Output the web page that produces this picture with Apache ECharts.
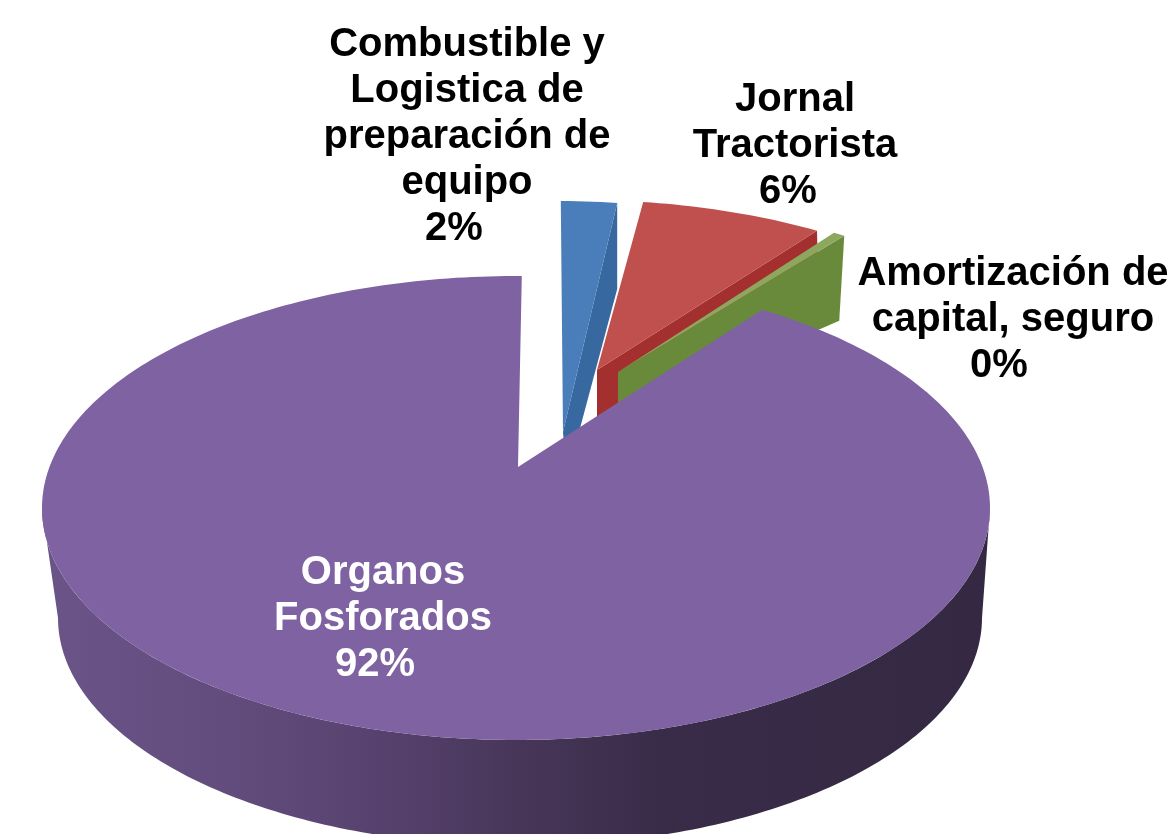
<!DOCTYPE html>
<html><head><meta charset="utf-8">
<style>html,body{margin:0;padding:0;background:#fff}#c{width:1175px;height:834px}</style>
<script src="https://cdn.jsdelivr.net/npm/echarts@6/dist/echarts.min.js"></script>
</head><body><div id="c"></div>
<script>
// Data
const categories = ['Combustible y\nLogistica de\npreparación de\nequipo', 'Jornal\nTractorista', 'Amortización de\ncapital, seguro', 'Organos\nFosforados'];
const values = [1.9, 6.2, 0.4, 91.5];

// Styles
const faceColors = ['#4a7ebb', '#c0504d', '#8ea75f', '#7e62a2'];
const wallColors = ['#37689f', '#a32f2e', '#6a8a3b', null];
const labelColors = ['#000', '#000', '#000', '#fff'];

// Layout of the tilted pie
const pie = {cx: 516, cy: 508, rx: 474, ry: 232, start: 0.7};
const bottom = {cx: 520, cy: 618, rx: 462, ry: 228};
const explode = [[39, -75], [65, -76], [82, -74], [0, 0]];
const hub = [[563, 432], [597, 370], [618, 372], [518, 467]];
const wallOuter = [[0, 86], [2, 86], [-5, 85], [0, 0]];
const wallInner = [[4, 45], [0, 50], [0, 45], [0, 0]];
const namePos = [[467, 114], [795, 123], [1013, 297], [383, 596]];
const percentPos = [[454, 229], [788, 192], [999, 366], [375, 665]];

const total = values.reduce((a, b) => a + b, 0);
const rad = d => d * Math.PI / 180;
function onEllipse(e, deg, off) {
  return [e.cx + off[0] + e.rx * Math.sin(rad(deg)), e.cy + off[1] - e.ry * Math.cos(rad(deg))];
}
function arc(e, a, b, off) {
  const n = Math.max(2, Math.ceil(Math.abs(b - a)));
  const pts = [];
  for (let i = 0; i <= n; i++) pts.push(onEllipse(e, a + (b - a) * i / n, off));
  return pts;
}
const wallGradient = {type: 'linear', x: 0, y: 0, x2: 1, y2: 0, colorStops: [
  {offset: 0, color: '#6b5488'}, {offset: 0.2, color: '#624c7d'}, {offset: 0.35, color: '#57426f'},
  {offset: 0.5, color: '#483659'}, {offset: 0.65, color: '#392c49'}, {offset: 1, color: '#342842'}]};
const labelFont = 'bold 40px "Liberation Sans", Arial, sans-serif';

function renderItem(params, api) {
  const i = params.dataIndex;
  const val = api.value(0);
  let before = 0;
  for (let k = 0; k < i; k++) before += values[k];
  const a0 = pie.start + before / total * 360;
  const a1 = a0 + val / total * 360;
  const off = explode[i];
  const edge = arc(pie, a0, a1, off);
  const children = [];
  if (wallColors[i]) {
    const end = edge[edge.length - 1];
    children.push({type: 'polygon', shape: {points: [hub[i], end,
      [end[0] + wallOuter[i][0], end[1] + wallOuter[i][1]],
      [hub[i][0] + wallInner[i][0], hub[i][1] + wallInner[i][1]]]},
      style: {fill: wallColors[i]}});
  } else {
    const top = arc(pie, 90, 270, off);
    const low = arc(bottom, 270, 90, off);
    children.push({type: 'polygon', shape: {points: top.concat(low)}, style: {fill: wallGradient}});
  }
  children.push({type: 'polygon', shape: {points: [hub[i]].concat(edge)}, style: {fill: faceColors[i]}});
  children.push({type: 'text', z2: 10, style: {
    text: categories[i], x: namePos[i][0], y: namePos[i][1], align: 'center', verticalAlign: 'middle',
    font: labelFont, lineHeight: 46, fill: labelColors[i]}});
  children.push({type: 'text', z2: 10, style: {
    text: Math.round(val / total * 100) + '%', x: percentPos[i][0], y: percentPos[i][1], align: 'center', verticalAlign: 'middle',
    font: labelFont, lineHeight: 46, fill: labelColors[i]}});
  return {type: 'group', children};
}

const chart = echarts.init(document.getElementById('c'), null, {renderer: 'canvas'});
chart.setOption({
  animation: false,
  backgroundColor: '#fff',
  series: [{type: 'custom', coordinateSystem: 'none', silent: true, renderItem,
    data: values.map((v, i) => ({name: categories[i], value: [v]}))}]
});
</script></body></html>
